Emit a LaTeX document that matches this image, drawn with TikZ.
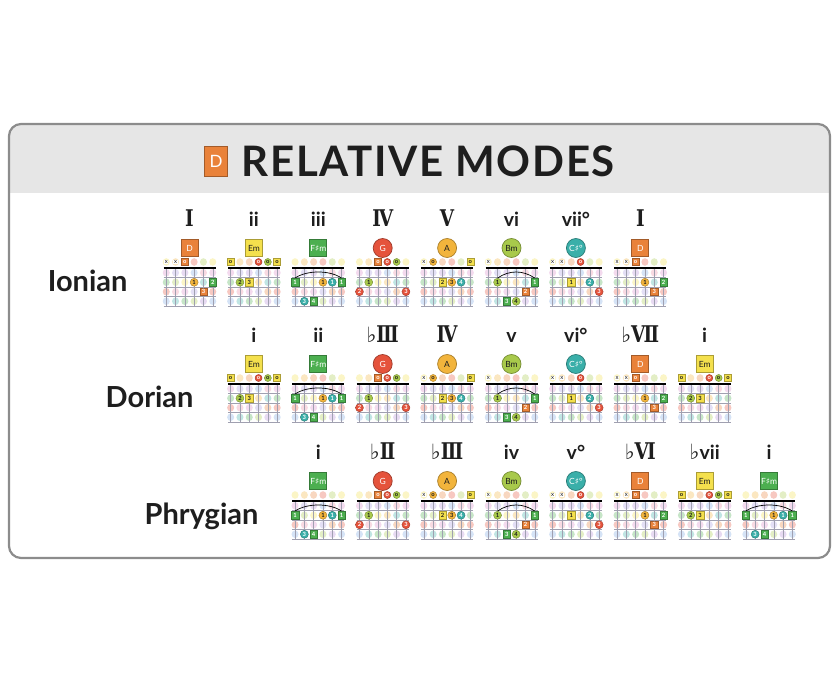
\documentclass[tikz,border=0pt]{standalone}
\usepackage{fontspec}
\setmainfont{Lato}
\newfontfamily\symfont{DejaVu Sans}
\newfontfamily\romfont[FakeStretch=0.8]{DejaVu Serif}
\usetikzlibrary{positioning}

\definecolor{noteC}{HTML}{E98BA6}
\definecolor{noteCs}{HTML}{3AAFA9}
\definecolor{noteD}{HTML}{E9823A}
\definecolor{noteDs}{HTML}{B58BD6}
\definecolor{noteE}{HTML}{F4E04D}
\definecolor{noteF}{HTML}{D98BC9}
\definecolor{noteFs}{HTML}{4CAF50}
\definecolor{noteG}{HTML}{E5533C}
\definecolor{noteGs}{HTML}{7DA7E3}
\definecolor{noteA}{HTML}{F2B43C}
\definecolor{noteAs}{HTML}{A79BE0}
\definecolor{noteB}{HTML}{A8C94B}
\definecolor{framegray}{HTML}{8C8C8C}
\definecolor{headgray}{HTML}{E6E6E6}
\definecolor{fretgray}{HTML}{A0A0B0}
\definecolor{inkdark}{HTML}{1E1E1E}
\colorlet{pc0}{noteC}  \colorlet{pc1}{noteCs} \colorlet{pc2}{noteD}
\colorlet{pc3}{noteDs} \colorlet{pc4}{noteE}  \colorlet{pc5}{noteF}
\colorlet{pc6}{noteFs} \colorlet{pc7}{noteG}  \colorlet{pc8}{noteGs}
\colorlet{pc9}{noteA}  \colorlet{pc10}{noteAs} \colorlet{pc11}{noteB}

\tikzset{
  sqmark/.style={rectangle, draw=#1!70!black, fill=#1, line width=0.4pt, minimum size=7.5pt, inner sep=0pt, font=\bfseries\fontsize{5.8}{5.8}\selectfont},
  cimark/.style={circle, draw=#1!70!black, fill=#1, line width=0.4pt, minimum size=8pt, inner sep=0pt, font=\bfseries\fontsize{5.8}{5.8}\selectfont},
  nD/.style={sqmark=noteD, text=white},
  nE/.style={sqmark=noteE, text=inkdark},
  nFs/.style={sqmark=noteFs, text=white},
  nG/.style={cimark=noteG, text=white},
  nA/.style={cimark=noteA, text=inkdark},
  nB/.style={cimark=noteB, text=inkdark},
  nCs/.style={cimark=noteCs, text=white},
  badge/.style={minimum size=17pt, line width=0.7pt, font=\fontsize{8.5}{8.5}\selectfont},
  mute/.style={fill=white, inner sep=0.6pt, font=\fontsize{6}{6}\selectfont, text=inkdark},
  fretline/.style={draw=fretgray, line width=0.5pt},
  nutline/.style={draw=black, line width=1.4pt},
  barreline/.style={draw=black, line width=0.7pt},
  numeral/.style={font=\bfseries\fontsize{19.5}{19.5}\selectfont, text=inkdark, anchor=base},
  rowlabel/.style={font=\bfseries\fontsize{29}{29}\selectfont, text=inkdark, anchor=base east}
}

\newcommand\upr[1]{{\romfont\bfseries\fontsize{23}{23}\selectfont #1}}
\newcommand\fl{{\symfont\mdseries\fontsize{21}{21}\selectfont ♭}}

% one fretboard, nut at the origin
\newcommand\board{%
  \foreach \s/\ost in {6/4,5/9,4/2,3/7,2/11,1/4}{%
    \foreach \f in {0,...,4}{%
      \pgfmathtruncatemacro\pc{mod(\ost+\f,12)}%
      \pgfmathsetmacro\fy{\f==0 ? -6 : (\f-0.5)*9.5}%
      \fill[pc\pc!32] ({(3.5-\s)*9.3},\fy) ellipse[x radius=3.5, y radius=3.8];
    }%
  }%
  \foreach \f in {1,...,4} \draw[fretline] (-26,{\f*9.5}) -- (26,{\f*9.5});
  \foreach \s in {1,...,6} \draw[fretline] ({(3.5-\s)*9.3},0) -- ({(3.5-\s)*9.3},38);
  \draw[nutline] (-26,0) -- (26,0);
}
\newcommand\fing[4]{\node[#1] (-s#2) at ({(3.5-#2)*9.3},{(#3-0.5)*9.5}) {#4};}
\newcommand\opn[2]{\node[#1, minimum size=7pt] (-s#2) at ({(3.5-#2)*9.3},-6) {o};}
\newcommand\mut[1]{\node[mute] (-s#1) at ({(3.5-#1)*9.3},-6) {x};}
\newcommand\barr[2]{\draw[barreline] ({(3.5-#1)*9.3},10) .. controls ({(3.5-#1)*9.3+12},2) and ({(3.5-#2)*9.3-12},2) .. ({(3.5-#2)*9.3},10);}

% chords
\newcommand\chD{\node[nD, badge] (-badge) at (0,-20) {D};
  \mut6 \mut5 \opn{nD}{4} \fing{nA}{3}{2}{1} \fing{nD}{2}{3}{3} \fing{nFs}{1}{2}{2}}
\newcommand\chEm{\node[nE, badge] (-badge) at (0,-20) {Em};
  \opn{nE}{6} \fing{nB}{5}{2}{2} \fing{nE}{4}{2}{3} \opn{nG}{3} \opn{nB}{2} \opn{nE}{1}}
\newcommand\chFsm{\node[nFs, badge] (-badge) at (0,-20) {F{\symfont♯}m};
  \barr{6}{1}
  \fing{nFs}{6}{2}{1} \fing{nCs}{5}{4}{3} \fing{nFs}{4}{4}{4} \fing{nA}{3}{2}{1} \fing{nCs}{2}{2}{1} \fing{nFs}{1}{2}{1}}
\newcommand\chG{\node[nG, badge, minimum size=19pt] (-badge) at (0,-20) {G};
  \fing{nG}{6}{3}{2} \fing{nB}{5}{2}{1} \opn{nD}{4} \opn{nG}{3} \opn{nB}{2} \fing{nG}{1}{3}{3}}
\newcommand\chA{\node[nA, badge, minimum size=19pt] (-badge) at (0,-20) {A};
  \mut6 \opn{nA}{5} \fing{nE}{4}{2}{2} \fing{nA}{3}{2}{3} \fing{nCs}{2}{2}{4} \opn{nE}{1}}
\newcommand\chBm{\node[nB, badge, minimum size=19pt] (-badge) at (0,-20) {Bm};
  \mut6 \barr{5}{1}
  \fing{nB}{5}{2}{1} \fing{nFs}{4}{4}{3} \fing{nB}{3}{4}{4} \fing{nD}{2}{3}{2} \fing{nFs}{1}{2}{1}}
\newcommand\chCs{\node[nCs, badge, minimum size=19pt] (-badge) at (0,-20) {C{\symfont♯}°};
  \mut6 \mut5 \fing{nE}{4}{2}{1} \opn{nG}{3} \fing{nCs}{2}{2}{2} \fing{nG}{1}{3}{3}}

\begin{document}
\begin{tikzpicture}[x=1pt, y=-1pt]
\useasboundingbox (0,0) rectangle (839,698);

% panel
\begin{scope}
  \clip[rounded corners=12pt] (9,124) rectangle (830,558);
  \fill[white] (9,124) rectangle (830,558);
  \fill[headgray] (9,124) rectangle (830,193);
\end{scope}
\draw[framegray, line width=2.2pt, rounded corners=12pt] (9,124) rectangle (830,558);

\node[font=\bfseries\fontsize{42}{42}\selectfont\addfontfeature{LetterSpace=4}, text=inkdark, anchor=base west] (title) at (238,177) {RELATIVE MODES};
\node[nD, minimum width=23pt, minimum height=30pt, line width=1pt, font=\fontsize{17}{17}\selectfont, left=10pt of title] (key) {D};

% Ionian
\node[rowlabel] (ionian) at (131,291) {Ionian};
\foreach \num/\ch [count=\k] in {{\upr{Ⅰ}}/D,ii/Em,iii/Fsm,{\upr{Ⅳ}}/G,{\upr{Ⅴ}}/A,vi/Bm,vii°/Cs,{\upr{Ⅰ}}/D}{
  \pgfmathsetmacro\cx{189.5+(\k-1)*64.4}
  \node[numeral] (ionnum\k) at (\cx,226) {\num};
  \begin{scope}[shift={(\cx,268)}, name prefix=ion\k]
    \board \csname ch\ch\endcsname
  \end{scope}
}

% Dorian
\node[rowlabel] (dorian) at (197,407) {Dorian};
\foreach \num/\ch [count=\k] in {i/Em,ii/Fsm,{\fl\upr{Ⅲ}}/G,{\upr{Ⅳ}}/A,v/Bm,vi°/Cs,{\fl\upr{Ⅶ}}/D,i/Em}{
  \pgfmathsetmacro\cx{189.5+\k*64.4}
  \node[numeral] (dornum\k) at (\cx,342) {\num};
  \begin{scope}[shift={(\cx,384)}, name prefix=dor\k]
    \board \csname ch\ch\endcsname
  \end{scope}
}

% Phrygian
\node[rowlabel] (phrygian) at (262,524) {Phrygian};
\foreach \num/\ch [count=\k] in {i/Fsm,{\fl\upr{Ⅱ}}/G,{\fl\upr{Ⅲ}}/A,iv/Bm,v°/Cs,{\fl\upr{Ⅵ}}/D,{\fl vii}/Em,i/Fsm}{
  \pgfmathsetmacro\cx{189.5+(\k+1)*64.4}
  \node[numeral] (phrnum\k) at (\cx,459) {\num};
  \begin{scope}[shift={(\cx,501)}, name prefix=phr\k]
    \board \csname ch\ch\endcsname
  \end{scope}
}
\end{tikzpicture}
\end{document}
